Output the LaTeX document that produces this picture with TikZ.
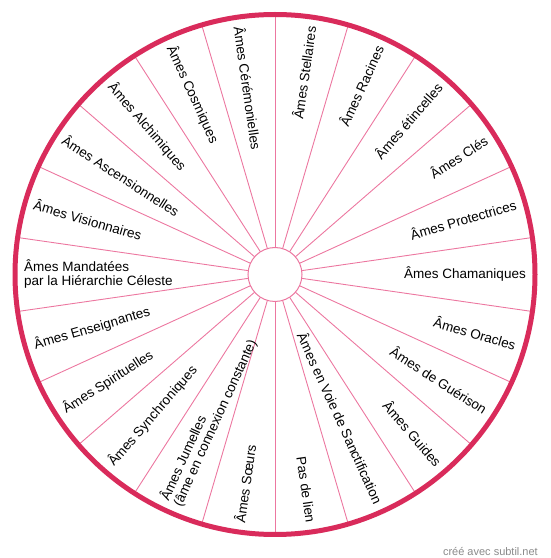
\documentclass[tikz,border=0pt]{standalone}
\usepackage{fontspec}
\setmainfont{Liberation Sans}
\usetikzlibrary{calc}
\definecolor{rimcol}{HTML}{D92B5B}
\definecolor{spokecol}{HTML}{EC77A0}
\definecolor{markgray}{HTML}{8A8A8A}
\begin{document}
\begin{tikzpicture}[x=1pt,y=1pt,
  spoke/.style={draw=spokecol, line width=0.9pt},
  lbl/.style={font=\fontsize{13.5}{14}\selectfont, inner sep=0pt, text=black},
  rimline/.style={draw=rimcol, line width=5pt},
  hubstyle/.style={circle, draw=spokecol, line width=1pt, fill=white, minimum size=54pt, inner sep=0pt, outer sep=0pt}]
\useasboundingbox (0,0) rectangle (550,558);
\coordinate (c) at (275,283.5);
% spokes
\foreach \k in {0,...,21}{
  \pgfmathsetmacro{\a}{90+\k*360/22}
  \coordinate (in\k) at ($(c)+(\a:27)$);
  \coordinate (out\k) at ($(c)+(\a:258)$);
  \draw[spoke] (in\k) -- (out\k);
}
\node[hubstyle] (hub) at (c) {};
\draw[rimline] (c) circle[radius=260];
% labels
\foreach \k/\t in {0/Âmes Stellaires, 1/Âmes Racines, 2/Âmes étincelles, 3/Âmes Clés, 4/Âmes Protectrices, 5/Âmes Chamaniques, 6/Âmes Oracles, 7/Âmes de Guérison, 8/Âmes Guides, 9/Âmes en Voie de Sanctification, 10/Pas de lien, 11/Âmes Sœurs, 12/{Âmes Jumelles\\(âme en connexion constante)}, 13/Âmes Synchroniques, 14/Âmes Spirituelles, 15/Âmes Enseignantes, 16/{Âmes Mandatées\\par la Hiérarchie Céleste}, 17/Âmes Visionnaires, 18/Âmes Ascensionnelles, 19/Âmes Alchimiques, 20/Âmes Cosmiques, 21/Âmes Cérémonielles}{
  \pgfmathsetmacro{\a}{90-360/44-\k*360/22}
  \ifnum\k<11
    \node[lbl, rotate=\a, anchor=east, align=right] (l\k) at ($(c)+(\a:251)$) {\t};
  \else
    \pgfmathsetmacro{\r}{\a+180}
    \node[lbl, rotate=\r, anchor=west, align=left] (l\k) at ($(c)+(\a:251)$) {\t};
  \fi
}
\node[font=\fontsize{11}{12}\selectfont, text=markgray, anchor=east, inner sep=0pt] (mark) at (538,6) {créé avec subtil.net};
\end{tikzpicture}
\end{document}
